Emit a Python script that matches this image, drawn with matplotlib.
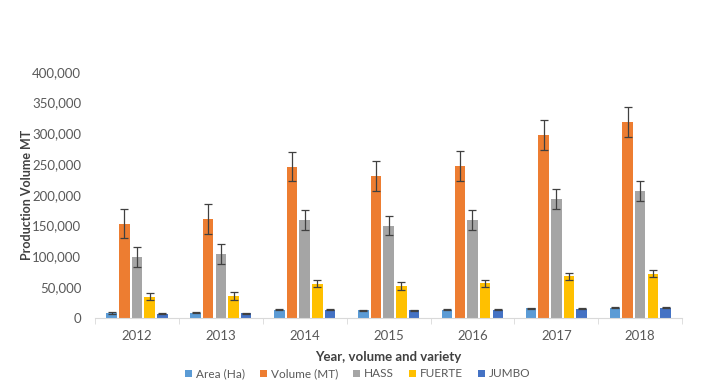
import numpy as np
import matplotlib
matplotlib.use('Agg')
import matplotlib.pyplot as plt
from matplotlib.ticker import FuncFormatter

# data
years  = ['2012', '2013', '2014', '2015', '2016', '2017', '2018']
area   = [8000, 8500, 13500, 12000, 13500, 15700, 16800]
volume = [153000, 160500, 246000, 230500, 246500, 297500, 318000]
hass   = [99000, 104000, 159500, 150000, 159500, 193000, 206000]
fuerte = [34500, 35500, 55500, 52000, 56000, 67500, 72000]
jumbo  = [7000, 7500, 13000, 12000, 13000, 15000, 16500]

err_area   = [1000, 1000, 1000, 1000, 1000, 1000, 1000]
err_volume = [24000, 24000, 24000, 24000, 24000, 24000, 24000]
err_hass   = [16000, 16000, 16000, 16000, 16000, 16000, 16000]
err_fuerte = [6000, 6000, 6000, 6000, 6000, 6000, 6000]
err_jumbo  = [1000, 1000, 1000, 1000, 1000, 1000, 1000]

labels = ['Area (Ha)', 'Volume (MT)', 'HASS', 'FUERTE', 'JUMBO']
series = [area, volume, hass, fuerte, jumbo]
errs   = [err_area, err_volume, err_hass, err_fuerte, err_jumbo]
colors = ['#5B9BD5', '#ED7D31', '#A5A5A5', '#FFC000', '#4472C4']

plt.rcParams['font.family'] = ['Lato', 'DejaVu Sans']

fig = plt.figure(figsize=(7.04, 3.9), dpi=100)
ax = fig.add_axes([0.135, 0.185, 0.834, 0.631])

x = np.arange(len(years))
step = 0.151
width = 0.125
for i in range(len(series)):
    ax.bar(x + (i - 2) * step, series[i], width=width, color=colors[i],
           yerr=errs[i], error_kw=dict(ecolor='#404040', elinewidth=0.9,
                                       capsize=3, capthick=0.9),
           label=labels[i])

ax.set_xlim(-0.5, len(years) - 0.5)
ax.set_ylim(0, 400000)
ax.set_yticks(np.arange(0, 400001, 50000))
ax.yaxis.set_major_formatter(FuncFormatter(lambda v, p: '{:,.0f}'.format(v)))
ax.set_xticks(x)
ax.set_xticklabels(years)
ax.set_xticks(np.arange(-0.5, len(years), 1.0), minor=True)

for s in ['top', 'right', 'left']:
    ax.spines[s].set_visible(False)
ax.spines['bottom'].set_color('#D9D9D9')
ax.tick_params(axis='y', length=0, labelsize=9.5, colors='#595959', pad=10)
ax.tick_params(axis='x', which='major', length=0, labelsize=9.5,
               colors='#595959', pad=9)
ax.tick_params(axis='x', which='minor', length=4, color='#D9D9D9')

ax.set_ylabel('Production Volume MT', fontsize=9, fontweight='bold',
              color='#404040')
ax.yaxis.set_label_coords(-0.106, 0.5)
ax.set_xlabel('Year, volume and variety', fontsize=9.5, fontweight='bold',
              color='#404040', labelpad=6)

leg = fig.legend(loc='lower center', bbox_to_anchor=(0.508, 0.0), ncol=5,
                 frameon=False, fontsize=8.5, handlelength=0.55, handleheight=0.55,
                 handletextpad=0.35, columnspacing=1.3)
for t in leg.get_texts():
    t.set_color('#595959')

fig.savefig('out.png', dpi=100)
